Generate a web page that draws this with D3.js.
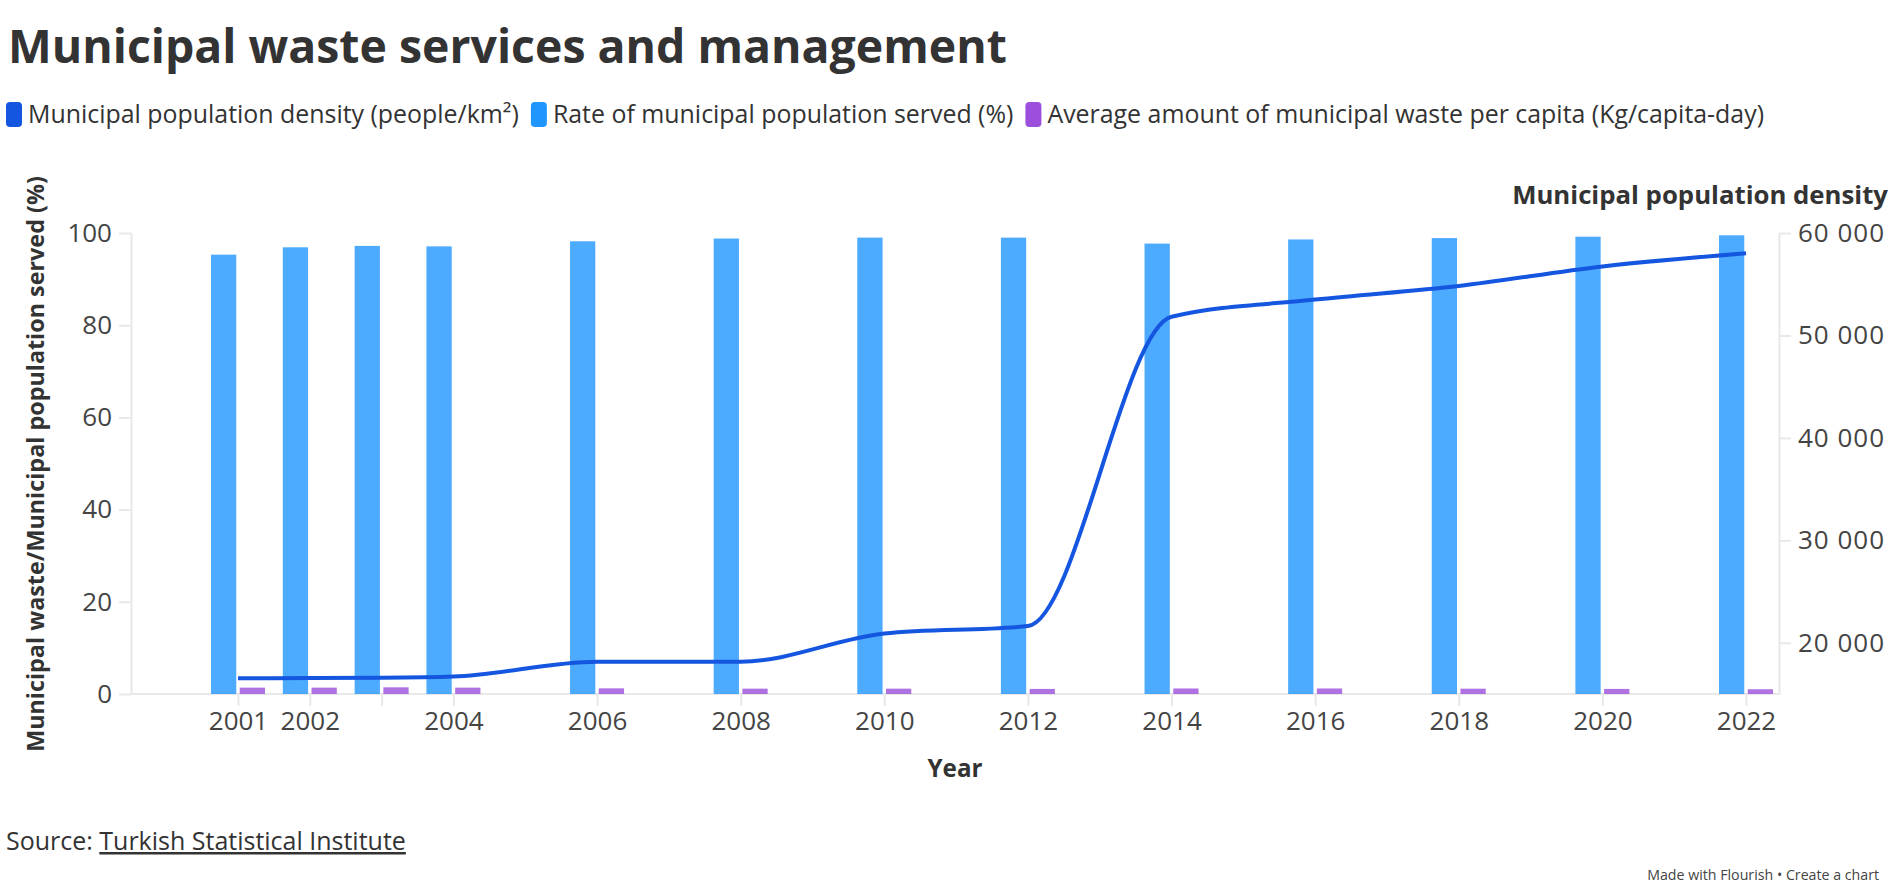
<!DOCTYPE html>
<html>
<head>
<meta charset="utf-8">
<script src="https://cdn.jsdelivr.net/npm/d3@7"></script>
<style>
  body { margin: 0; background: #fff; }
  svg { display: block; font-family: "Open Sans", "Noto Sans", sans-serif; }
</style>
</head>
<body>
<div id="chart"></div>
<script>
// data
const years = [2001, 2002, 2003, 2004, 2006, 2008, 2010, 2012, 2014, 2016, 2018, 2020, 2022];
const servedRate = [95.3, 96.9, 97.2, 97.1, 98.2, 98.8, 99.0, 99.0, 97.7, 98.6, 98.9, 99.2, 99.5];
const wastePerCapita = [1.38, 1.38, 1.45, 1.38, 1.23, 1.16, 1.16, 1.1, 1.2, 1.2, 1.15, 1.1, 1.03];
const popDensity = [16530, 16550, 16580, 16700, 18150, 18150, 20900, 21630, 51820, 53500, 54830, 56740, 58030];

const leftTicks = [0, 20, 40, 60, 80, 100];
const rightTicks = [20000, 30000, 40000, 50000, 60000];
const seriesNames = [
  "Municipal population density (people/km²)",
  "Rate of municipal population served (%)",
  "Average amount of municipal waste per capita (Kg/capita-day)"
];
const seriesColors = ["#1556e0", "#1f95ff", "#9b4fdc"];

const data = years.map((y, i) => ({
  year: y, served: servedRate[i], waste: wastePerCapita[i], density: popDensity[i]
}));

var w = 1903;
var h = 890;
var margin = { top: 233, left: 131, right: 124, bottom: 196 };
var width = w - margin.left - margin.right;
var height = h - margin.top - margin.bottom;

var svg = d3.select("#chart").append("svg")
  .attr("width", w)
  .attr("height", h);

// shrink/grow a text to a measured width from the reference
function fitWidth(sel, target) {
  var len = sel.node().getComputedTextLength();
  var fs = parseFloat(sel.attr("font-size"));
  sel.attr("font-size", fs * target / len);
}

///////////////////////////// Title + legend

var title = svg.append("text")
  .attr("x", 8).attr("y", 63)
  .attr("font-size", 48).attr("font-weight", 700)
  .attr("fill", "#333")
  .text("Municipal waste services and management");
fitWidth(title, 999);

var legend = svg.append("g");
var lx = 6;
var legendFont = 24;
seriesNames.forEach(function (name, i) {
  legend.append("rect")
    .attr("x", lx).attr("y", 102)
    .attr("width", 16).attr("height", 25)
    .attr("rx", 4)
    .attr("fill", seriesColors[i]);
  var t = legend.append("text")
    .attr("x", lx + 22).attr("y", 114)
    .attr("dy", "0.35em")
    .attr("font-size", legendFont)
    .attr("fill", "#333")
    .text(name);
  if (i === 0) {
    fitWidth(t, 491);
    legendFont = parseFloat(t.attr("font-size"));
  }
  lx = lx + 22 + t.node().getComputedTextLength() + 12;
});

///////////////////////////// Scales

var chart = svg.append("g")
  .attr("transform", "translate(" + margin.left + "," + margin.top + ")");

var x = d3.scaleLinear()
  .domain([2001, 2022])
  .range([107, 1615]);

var xSub = d3.scaleBand()
  .domain(["served", "waste"])
  .range([-27, 27])
  .paddingInner(0.12);

var yLeft = d3.scaleLinear().domain([0, 100]).range([height, 0]);
var yRight = d3.scaleLinear().domain([15000, 60000]).range([height, 0]);

var spaceFormat = d3.formatLocale({ decimal: ".", thousands: " ", grouping: [3], currency: ["", ""] }).format(",");

///////////////////////////// Axes

function styleAxis(g) {
  g.select(".domain").attr("stroke", "#e8e8e8").attr("stroke-width", 2);
  g.selectAll(".tick line").attr("stroke", "#e8e8e8").attr("stroke-width", 2);
  g.selectAll(".tick text")
    .attr("fill", "#444")
    .attr("font-size", 26)
    .attr("font-family", "'Open Sans', sans-serif");
}

chart.append("g")
  .call(d3.axisLeft(yLeft).tickValues(leftTicks).tickSize(12).tickSizeOuter(0).tickPadding(7))
  .call(styleAxis);

chart.append("g")
  .attr("transform", "translate(" + width + ",0)")
  .call(d3.axisRight(yRight).tickValues(rightTicks).tickFormat(spaceFormat).tickSize(12).tickSizeOuter(0).tickPadding(7))
  .call(styleAxis)
  .selectAll(".tick text").attr("letter-spacing", 1);

var xAxis = chart.append("g")
  .attr("transform", "translate(0," + height + ")")
  .call(d3.axisBottom(x).tickValues(years).tickFormat(d => d === 2003 ? "" : d).tickSize(12).tickSizeOuter(0).tickPadding(6))
  .call(styleAxis);
xAxis.select(".domain").attr("d", "M0,0H" + width);

///////////////////////////// Bars

chart.append("g").selectAll("rect")
  .data(data)
  .join("rect")
  .attr("x", d => x(d.year) + xSub("served"))
  .attr("width", xSub.bandwidth())
  .attr("y", d => yLeft(d.served))
  .attr("height", d => height - yLeft(d.served))
  .attr("fill", seriesColors[1])
  .attr("fill-opacity", 0.8);

chart.append("g").selectAll("rect")
  .data(data)
  .join("rect")
  .attr("x", d => x(d.year) + xSub("waste"))
  .attr("width", xSub.bandwidth())
  .attr("y", d => yLeft(d.waste))
  .attr("height", d => height - yLeft(d.waste))
  .attr("fill", seriesColors[2])
  .attr("fill-opacity", 0.8);

///////////////////////////// Line

var line = d3.line()
  .curve(d3.curveMonotoneX)
  .x(d => x(d.year))
  .y(d => yRight(d.density));

chart.append("path")
  .datum(data)
  .attr("fill", "none")
  .attr("stroke", seriesColors[0])
  .attr("stroke-width", 4)
  .attr("d", line);

///////////////////////////// Axis titles

var leftTitle = svg.append("text")
  .attr("transform", "translate(44,464) rotate(-90)")
  .attr("text-anchor", "middle")
  .attr("font-size", 24).attr("font-weight", 700)
  .attr("fill", "#333")
  .text("Municipal waste/Municipal population served (%)");
fitWidth(leftTitle, 576);

var rightTitle = svg.append("text")
  .attr("x", 1888).attr("y", 204)
  .attr("text-anchor", "end")
  .attr("font-size", 24).attr("font-weight", 700)
  .attr("fill", "#333")
  .text("Municipal population density");
fitWidth(rightTitle, 376);

var yearTitle = svg.append("text")
  .attr("x", margin.left + width / 2).attr("y", 777)
  .attr("text-anchor", "middle")
  .attr("font-size", 24).attr("font-weight", 700)
  .attr("fill", "#333")
  .text("Year");
fitWidth(yearTitle, 55);

///////////////////////////// Footer

var source = svg.append("text")
  .attr("x", 6).attr("y", 850)
  .attr("font-size", 22)
  .attr("fill", "#333");
source.append("tspan").text("Source: ");
source.append("tspan").attr("text-decoration", "underline").text("Turkish Statistical Institute");
fitWidth(source, 400);

var credit = svg.append("text")
  .attr("x", 1879).attr("y", 880)
  .attr("text-anchor", "end")
  .attr("font-size", 14)
  .attr("fill", "#444")
  .text("Made with Flourish • Create a chart");
fitWidth(credit, 232);
</script>
</body>
</html>
